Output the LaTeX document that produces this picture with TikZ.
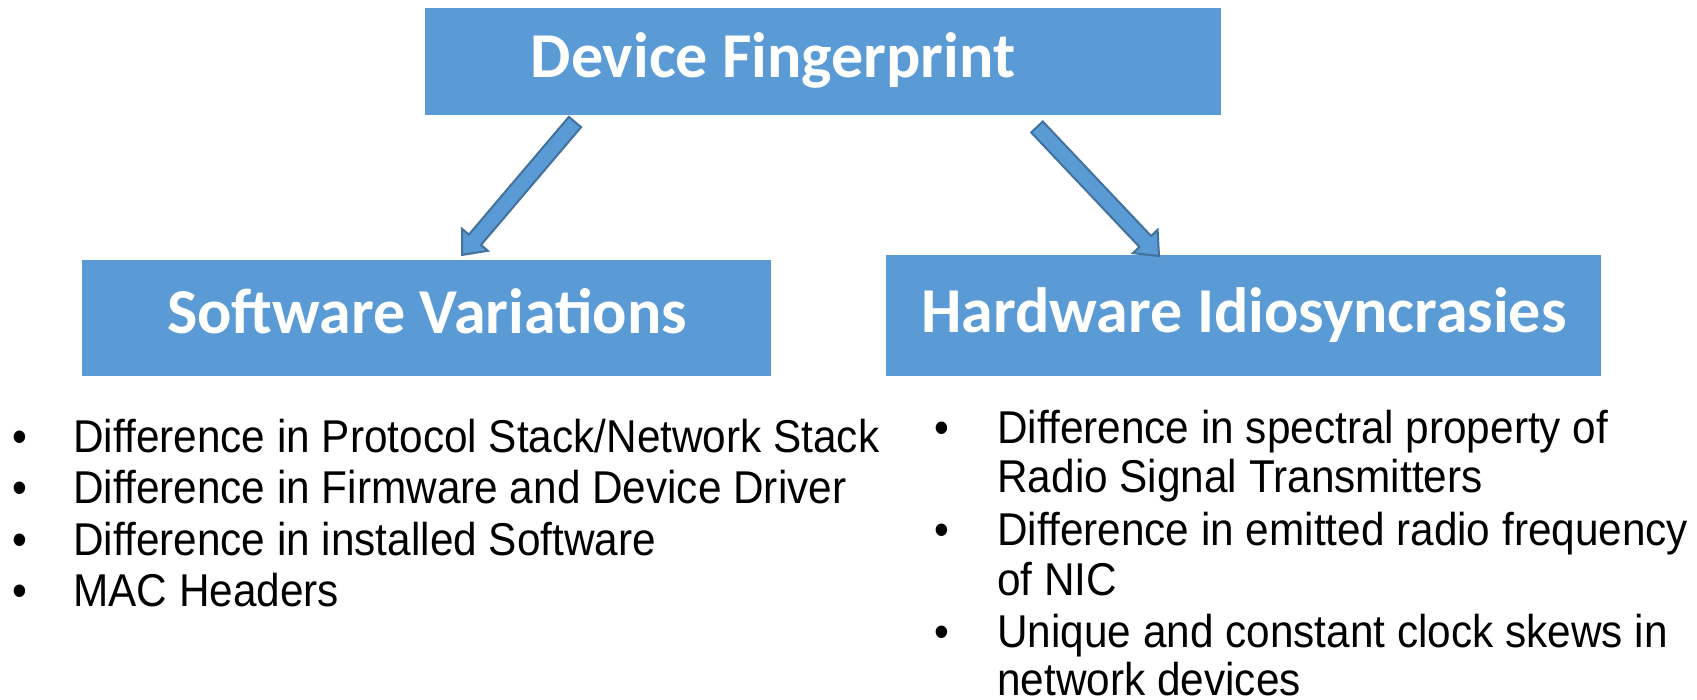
\documentclass[tikz,border=0pt]{standalone}
\usepackage{fontspec}
\setmainfont{Liberation Sans}[FakeStretch=0.92]
\newfontfamily\headfont{Carlito}
\usetikzlibrary{calc}

\definecolor{boxblue}{HTML}{5B9BD5}
\definecolor{edgeblue}{HTML}{41719C}

\tikzset{
  box/.style={fill=boxblue, draw=none, inner sep=0pt, rectangle},
  boxtext/.style={font=\headfont\bfseries\fontsize{32}{38}\selectfont, text=white, inner sep=0pt, anchor=base},
  item/.style={font=\fontsize{23}{27}\selectfont, inner sep=0pt, anchor=base west, text depth=0pt},
  dot/.style={font=\fontsize{23}{27}\selectfont, inner sep=0pt, anchor=base},
  blockarrow/.style={fill=boxblue, draw=edgeblue, line width=1pt, line join=miter}
}

% block arrow from tail coordinate #1 to tip coordinate #2
\newcommand{\blockarr}[2]{%
  \coordinate (#1-b) at ($(#2)!10pt!(#1)$);
  \draw[blockarrow]
    ($(#1)!4pt!90:(#2)$) -- ($(#1-b)!4pt!90:(#2)$) -- ($(#1-b)!8.5pt!90:(#2)$)
    -- (#2) -- ($(#1-b)!8.5pt!-90:(#2)$) -- ($(#1-b)!4pt!-90:(#2)$)
    -- ($(#1)!4pt!-90:(#2)$) -- cycle;}

\begin{document}
\begin{tikzpicture}[x=0.5pt, y=-0.5pt]
\useasboundingbox (0,0) rectangle (1697,700);

% boxes
\node[box, minimum width=398pt, minimum height=53.5pt] (fp) at (823,61.5) {};
\node[box, minimum width=344.5pt, minimum height=58pt] (sw) at (426.5,318) {};
\node[box, minimum width=357.5pt, minimum height=60.5pt] (hw) at (1243.5,315.5) {};

\node[boxtext] (fpt) at (773,78) {Device Fingerprint};
\node[boxtext] (swt) at (427,334) {Software Variations};
\node[boxtext] (hwt) at (1244,332) {Hardware Idiosyncrasies};

% arrows
\coordinate (la) at (575,122);
\coordinate (lb) at (462,255);
\coordinate (ra) at (1037,127);
\coordinate (rb) at (1159,256);
\blockarr{la}{lb}
\blockarr{ra}{rb}

% software list
\node[dot] (s1d) at (19.5,452) {•};
\node[item] (s1) at (73,452) {Difference in Protocol Stack/Network Stack};
\node[dot] (s2d) at (19.5,503) {•};
\node[item] (s2) at (73,503) {Difference in Firmware and Device Driver};
\node[dot] (s3d) at (19.5,555) {•};
\node[item] (s3) at (73,555) {Difference in installed Software};
\node[dot] (s4d) at (19.5,606) {•};
\node[item] (s4) at (73,606) {MAC Headers};

% hardware list
\node[dot] (h1d) at (942,443) {•};
\node[item] (h1) at (997,443) {Difference in spectral property of};
\node[item] (h1b) at (997,492) {Radio Signal Transmitters};
\node[dot] (h2d) at (942,545) {•};
\node[item] (h2) at (997,545) {Difference in emitted radio frequency};
\node[item] (h2b) at (997,595) {of NIC};
\node[dot] (h3d) at (942,647) {•};
\node[item] (h3) at (997,647) {Unique and constant clock skews in};
\node[item] (h3b) at (997,695) {network devices};
\end{tikzpicture}
\end{document}
